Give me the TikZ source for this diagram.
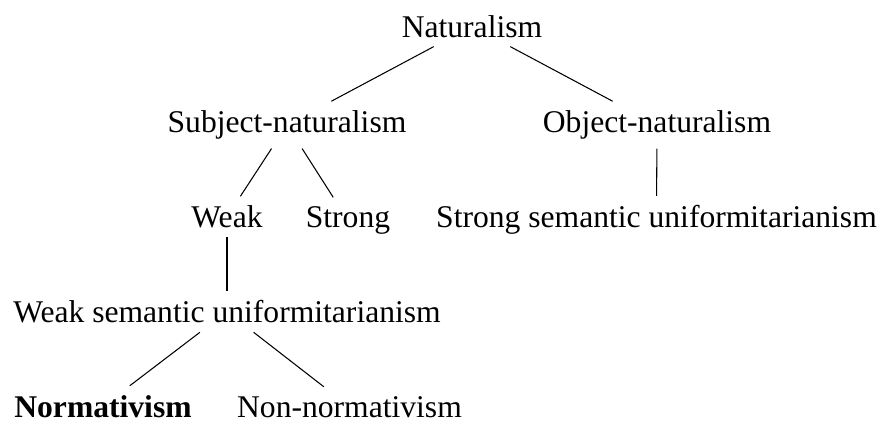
\documentclass[tikz,border=0pt]{standalone}
\usepackage{fontspec}
\setmainfont{Liberation Serif}
\usepackage{tikz}

\begin{document}
\begin{tikzpicture}[x=0.3797pt,y=-0.3797pt,every node/.style={anchor=base,font=\fontsize{12}{14.4}\selectfont}]
	% Frame
	\useasboundingbox (0,0) rectangle (881,421);
	% Draw nodes
	\node (nat) at (472,37) {Naturalism};
	\node (subj) at (287,132.5) {Subject-naturalism};
	\node (obj) at (657,132.5) {Object-naturalism};
	\node (weak) at (227,227.5) {Weak};
	\node (strong) at (348,227.5) {Strong};
	\node (ssu) at (656.5,227.5) {Strong semantic uniformitarianism};
	\node (wsu) at (227,322.5) {Weak semantic uniformitarianism};
	\node (norm) at (103,417) {\textbf{Normativism}};
	\node (nonnorm) at (349.5,417) {Non-normativism};
	% Draw edges
	\draw (nat) -- (subj);
	\draw (nat) -- (obj);
	\draw (subj) -- (weak);
	\draw (subj) -- (strong);
	\draw (obj) -- (ssu);
	\draw (weak) -- (wsu);
	\draw (wsu) -- (norm);
	\draw (wsu) -- (nonnorm);
\end{tikzpicture}
\end{document}
